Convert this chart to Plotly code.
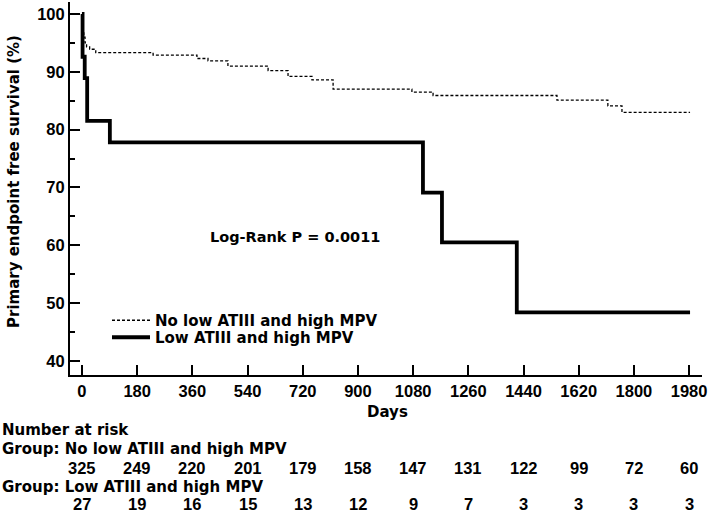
import plotly.graph_objects as go

# ---- data ----
days_no = [0, 3, 6, 10, 15, 25, 45, 232, 375, 411, 476, 607, 672, 750, 819, 1076, 1145, 1549, 1715, 1761, 1983]
surv_no = [100, 97.0, 96.0, 95.0, 94.3, 93.9, 93.3, 92.9, 92.3, 91.9, 91.0, 90.2, 89.2, 88.6, 87.0, 86.5, 85.9, 85.1, 84.1, 83.0, 83.0]

days_low = [0, 2, 9, 17, 91, 1112, 1174, 1418, 1983]
surv_low = [100, 92.6, 88.9, 81.5, 77.8, 69.1, 60.5, 48.4, 48.4]

x_ticks = [0, 180, 360, 540, 720, 900, 1080, 1260, 1440, 1620, 1800, 1980]
y_ticks = [40, 50, 60, 70, 80, 90, 100]

risk_no = [325, 249, 220, 201, 179, 158, 147, 131, 122, 99, 72, 60]
risk_low = [27, 19, 16, 15, 13, 12, 9, 7, 3, 3, 3, 3]

name_no = "No low ATIII and high MPV"
name_low = "Low ATIII and high MPV"

# ---- layout geometry ----
W, H = 709, 514
ML, MR, MT, MB = 70, 7, 2, 139
PW = W - ML - MR
PH = H - MT - MB


def px_x(p):
    return (p - ML) / PW


def px_y(p):
    return (H - MB - p) / PH


TXT = dict(family="DejaVu Sans", size=15, color="black", weight="bold")
NUM = dict(family="Liberation Sans", size=16.5, color="black", weight="bold")

fig = go.Figure()
fig.add_trace(go.Scatter(x=days_no, y=surv_no, mode="lines", line_shape="hv",
                         line=dict(color="black", width=1.3, dash="3px,2px"), name=name_no,
                         legend="legend"))
fig.add_trace(go.Scatter(x=days_low, y=surv_low, mode="lines", line_shape="hv",
                         line=dict(color="black", width=3.8), name=name_low,
                         legend="legend2"))

ann = []
ann.append(dict(text="Log-Rank P = 0.0011", x=px_x(295), y=px_y(237), xref="paper", yref="paper",
                showarrow=False, font=dict(TXT, size=14.5), xanchor="center", yanchor="middle"))
ann.append(dict(text="Primary endpoint free survival (%)", x=px_x(14), y=px_y(182), xref="paper", yref="paper",
                showarrow=False, font=TXT, textangle=-90, xanchor="center", yanchor="middle"))
ann.append(dict(text="Days", x=px_x(387), y=px_y(412), xref="paper", yref="paper",
                showarrow=False, font=TXT, xanchor="center", yanchor="middle"))
ann.append(dict(text="Number at risk", x=px_x(0), y=px_y(430), xref="paper", yref="paper",
                showarrow=False, font=TXT, xanchor="left", yanchor="middle"))
ann.append(dict(text="Group: " + name_no, x=px_x(0), y=px_y(449), xref="paper", yref="paper",
                showarrow=False, font=TXT, xanchor="left", yanchor="middle"))
ann.append(dict(text="Group: " + name_low, x=px_x(0), y=px_y(487), xref="paper", yref="paper",
                showarrow=False, font=TXT, xanchor="left", yanchor="middle"))
for t, n in zip(x_ticks, risk_no):
    ann.append(dict(text=str(n), x=t, y=px_y(468), xref="x", yref="paper",
                    showarrow=False, font=NUM, xanchor="center", yanchor="middle"))
for t, n in zip(x_ticks, risk_low):
    ann.append(dict(text=str(n), x=t, y=px_y(514), xref="x", yref="paper", borderpad=0,
                    showarrow=False, font=NUM, xanchor="center", yanchor="bottom"))

leg_common = dict(xanchor="left", yanchor="top", bgcolor="rgba(0,0,0,0)", font=TXT,
                  itemwidth=38, tracegroupgap=0)

fig.update_layout(
    width=W, height=H,
    margin=dict(l=ML, r=MR, t=MT, b=MB),
    paper_bgcolor="white", plot_bgcolor="white",
    font=TXT,
    showlegend=True,
    legend=dict(leg_common, x=px_x(107), y=px_y(304)),
    legend2=dict(leg_common, x=px_x(107), y=px_y(321)),
    annotations=ann,
    xaxis=dict(range=[-39, 2022], tickvals=x_ticks, ticks="inside", ticklen=10, tickwidth=2,
               tickcolor="black", showline=True, linewidth=2, linecolor="black",
               showgrid=False, zeroline=False, tickfont=NUM),
    yaxis=dict(range=[37.58, 102.07], tickvals=y_ticks, ticks="inside", ticklen=10, tickwidth=2,
               tickcolor="black", showline=True, linewidth=2, linecolor="black",
               showgrid=False, zeroline=False, tickfont=NUM,
               minor=dict(tickvals=[45, 55, 65, 75, 85, 95], ticks="inside", ticklen=5,
                          tickwidth=1.5, tickcolor="black")),
)

fig.write_html("out.html", config={"displayModeBar": False},
               post_script="document.body.style.margin='0px';")
